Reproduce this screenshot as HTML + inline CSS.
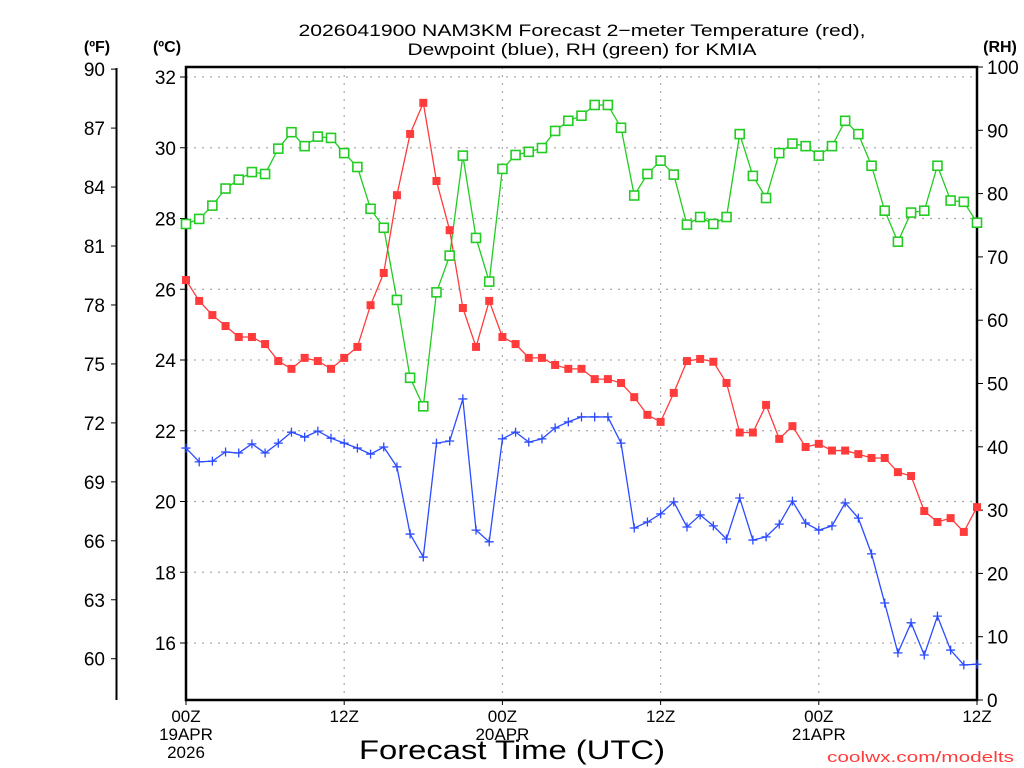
<!DOCTYPE html>
<html><head><meta charset="utf-8"><style>
html,body{margin:0;padding:0;background:#fff;}
svg{display:block;font-family:"Liberation Sans",sans-serif;}
</style></head><body>
<svg id="chart" width="1024" height="768" viewBox="0 0 1024 768">
<text x="582" y="36" text-anchor="middle" font-size="17" textLength="567" lengthAdjust="spacingAndGlyphs">2026041900 NAM3KM Forecast 2−meter Temperature (red),</text>
<text x="582" y="55" text-anchor="middle" font-size="17" textLength="349" lengthAdjust="spacingAndGlyphs">Dewpoint (blue), RH (green) for KMIA</text>
<text x="97" y="52" text-anchor="middle" font-size="16" font-weight="bold">(ºF)</text>
<text x="167" y="52" text-anchor="middle" font-size="16" font-weight="bold">(ºC)</text>
<text x="1000" y="52" text-anchor="middle" font-size="16" font-weight="bold">(RH)</text>
<text x="512" y="759" text-anchor="middle" font-size="27" textLength="306" lengthAdjust="spacingAndGlyphs">Forecast Time (UTC)</text>
<text x="1014" y="762" text-anchor="end" font-size="15" fill="#ff3b3b" textLength="187" lengthAdjust="spacingAndGlyphs">coolwx.com/modelts</text>
<g id="grid"></g><g id="axes"></g><g id="series"></g>
</svg>
<script>
const hours = Array.from({length:61},(_,i)=>i);
const tempC = [26.26,25.67,25.27,24.96,24.65,24.65,24.45,23.97,23.75,24.06,23.97,23.75,24.06,24.37,25.55,26.46,28.66,30.39,31.27,29.06,27.67,25.47,24.37,25.67,24.65,24.45,24.06,24.06,23.86,23.75,23.75,23.46,23.46,23.35,22.95,22.45,22.25,23.07,23.97,24.03,23.95,23.35,21.95,21.95,22.73,21.77,22.13,21.54,21.63,21.44,21.44,21.34,21.23,21.23,20.83,20.72,19.73,19.42,19.53,19.14,19.84];
const dewC = [21.51,21.12,21.14,21.40,21.37,21.63,21.37,21.65,21.96,21.82,21.99,21.79,21.65,21.51,21.34,21.54,20.98,19.08,18.43,21.65,21.71,22.90,19.19,18.86,21.77,21.96,21.68,21.77,22.08,22.25,22.39,22.39,22.39,21.65,19.25,19.42,19.65,19.99,19.28,19.62,19.31,18.94,20.10,18.91,19.00,19.36,20.01,19.39,19.19,19.31,19.96,19.53,18.52,17.13,15.72,16.57,15.66,16.76,15.80,15.38,15.40];
const rh = [75.2,76.0,78.1,80.8,82.2,83.4,83.1,87.1,89.7,87.5,89.0,88.8,86.4,84.2,77.6,74.6,63.2,50.9,46.4,64.4,70.2,86.0,73.0,66.1,83.9,86.1,86.6,87.2,89.9,91.5,92.3,94.0,94.0,90.4,79.7,83.1,85.2,83.0,75.1,76.3,75.2,76.3,89.4,82.8,79.3,86.4,87.9,87.5,86.0,87.5,91.5,89.4,84.4,77.3,72.4,77.0,77.3,84.4,78.9,78.7,75.4];
const cTicks = [16,18,20,22,24,26,28,30,32];
const fTicks = [60,63,66,69,72,75,78,81,84,87,90];
const rhTicks = [0,10,20,30,40,50,60,70,80,90,100];
const xTickHours = [0,12,24,36,48,60];
const xTickLabels = [["00Z","19APR","2026"],["12Z"],["00Z","20APR"],["12Z"],["00Z","21APR"],["12Z"]];

const L=186,R=977,T=67,B=700;
const xS=h=>L+(R-L)*h/60;
const yC=c=>77+(32-c)*35.375;
const yF=f=>yC((f-32)/1.8);
const yRH=v=>B-(B-T)*v/100;
const NS="http://www.w3.org/2000/svg";
function mk(tag,attrs,parent){const e=document.createElementNS(NS,tag);for(const k in attrs)e.setAttribute(k,attrs[k]);parent.appendChild(e);return e;}
const grid=document.getElementById('grid'),axes=document.getElementById('axes'),ser=document.getElementById('series');

cTicks.forEach(c=>{
  const g=mk('line',{x1:L,x2:R,y1:yC(c),y2:yC(c),stroke:'#aaa','stroke-width':1.2,'stroke-dasharray':'2,6'},grid);
  
  
  const t=mk('line',{x1:L-6,x2:L,y1:yC(c),y2:yC(c),stroke:'#000','stroke-width':1},axes);
  
  
  const tx=mk('text',{x:L-10,y:yC(c)+7,'text-anchor':'end','font-size':19},axes);
  tx.textContent=c;
  
  
});
xTickHours.forEach((h,i)=>{
  if(h>0&&h<60){
    const g=mk('line',{x1:xS(h),x2:xS(h),y1:T,y2:B,stroke:'#aaa','stroke-width':1.2,'stroke-dasharray':'2,6'},grid);
    
    
  }
  const t=mk('line',{x1:xS(h),x2:xS(h),y1:B,y2:B+5,stroke:'#000','stroke-width':1},axes);
  
  
  xTickLabels[i].forEach((s,j)=>{
    const tx=mk('text',{x:xS(h),y:B+22+j*18,'text-anchor':'middle','font-size':17},axes);
    tx.textContent=s;
    
    
  });
});
fTicks.forEach(f=>{
  const t=mk('line',{x1:111,x2:116,y1:yF(f),y2:yF(f),stroke:'#000','stroke-width':1},axes);
  
  
  const tx=mk('text',{x:105,y:yF(f)+7,'text-anchor':'end','font-size':19},axes);
  tx.textContent=f;
  
  
});
rhTicks.forEach(v=>{
  const t=mk('line',{x1:R,x2:R+6,y1:yRH(v),y2:yRH(v),stroke:'#000','stroke-width':1},axes);
  
  
  const tx=mk('text',{x:987,y:yRH(v)+7,'font-size':19},axes);
  tx.textContent=v;
  
  
});
const fa=mk('line',{x1:116.5,x2:116.5,y1:68,y2:700,stroke:'#000','stroke-width':2},axes);


const box=mk('path',{d:`M${L},${T}H${R}V${B}H${L}Z`,fill:'none',stroke:'#000','stroke-width':2.5},axes);



function line(vals,yf,color,name){
  const p=mk('polyline',{points:vals.map((v,i)=>xS(hours[i])+','+yf(v)).join(' '),fill:'none',stroke:color,'stroke-width':1.3},ser);
  
  
}
line(rh,yRH,'#22cc22','rh-line');
line(tempC,yC,'#ff3b3b','temperature-line');
line(dewC,yC,'#2a4bff','dewpoint-line');
rh.forEach((v,i)=>{
  const m=mk('rect',{x:xS(hours[i])-4.5,y:yRH(v)-4.5,width:9,height:9,fill:'#fff',stroke:'#22cc22','stroke-width':1.6},ser);
  
  
});
tempC.forEach((v,i)=>{
  const m=mk('rect',{x:xS(hours[i])-4,y:yC(v)-4,width:8,height:8,fill:'#ff3b3b'},ser);
  
  
});
dewC.forEach((v,i)=>{
  const x=xS(hours[i]),y=yC(v);
  const m=mk('path',{d:`M${x-4.5},${y}H${x+4.5}M${x},${y-4.5}V${y+4.5}`,stroke:'#2a4bff','stroke-width':1.3},ser);
  
  
});
</script>
</body></html>
